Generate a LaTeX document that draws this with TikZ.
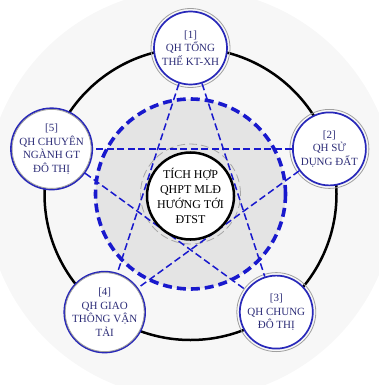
\documentclass[tikz,border=0pt]{standalone}
\usepackage{fontspec}
\setmainfont{Liberation Serif}
\definecolor{nblue}{RGB}{40,40,185}
\definecolor{dblue}{RGB}{25,25,205}
\definecolor{ntext}{RGB}{45,45,120}
\definecolor{bgc}{RGB}{247,247,247}
\definecolor{discc}{RGB}{228,228,228}
\tikzset{
  pnode/.style={circle, fill=white, draw=nblue, line width=1.7pt, minimum size=73pt, inner sep=0pt,
    text=ntext, align=center, font=\fontsize{11}{13.5}\selectfont},
  starline/.style={dblue, line width=1.5pt, dash pattern=on 7pt off 3.5pt},
  thickdash/.style={dblue, line width=3.6pt, dash pattern=on 9pt off 5pt},
  innerdash/.style={gray!70, line width=0.8pt, dash pattern=on 8pt off 4pt},
  outerring/.style={draw=gray!75, line width=0.8pt},
}
\begin{document}
\begin{tikzpicture}[x=1pt,y=1pt]
\useasboundingbox (0,0) rectangle (379,-385);
\coordinate (c) at (190.5,-194);
% background
\fill[bgc] (c) circle (205);
% big black circle
\draw[black, line width=2.5pt] (c) circle (146);
% grey disc
\fill[discc] (c) circle (95);
\draw[thickdash] (c) circle (95);
\draw[innerdash] (c) circle (50);
% nodes
\node[pnode] (n1) at (190.5,-48) {[1]\\QH TỔNG\\THẾ KT-XH};
\node[pnode] (n2) at (329.4,-148.9) {[2]\\QH SỬ\\DỤNG ĐẤT};
\node[pnode] (n3) at (276.3,-312.1) {[3]\\QH CHUNG\\ĐÔ THỊ};
\node[pnode] (n4) at (104.7,-312.1) {[4]\\QH GIAO\\THÔNG VẬN\\TẢI};
\node[pnode] (n5) at (51.6,-148.9) {[5]\\QH CHUYÊN\\NGÀNH GT\\ĐÔ THỊ};
\foreach \n in {n1,n2,n3,n4,n5}{\draw[outerring] (\n) circle (39.5);}
% pentagram
\draw[starline] (n1) -- (n3);
\draw[starline] (n1) -- (n4);
\draw[starline] (n2) -- (n4);
\draw[starline] (n2) -- (n5);
\draw[starline] (n5) -- (n3);
% centre
\node[circle, fill=white, draw=black, line width=2.5pt, minimum size=84pt, inner sep=0pt,
  align=center, font=\fontsize{12}{15}\selectfont] (ctr) at (190.5,-196) {TÍCH HỢP\\QHPT MLĐ\\HƯỚNG TỚI\\ĐTST};
\end{tikzpicture}
\end{document}
